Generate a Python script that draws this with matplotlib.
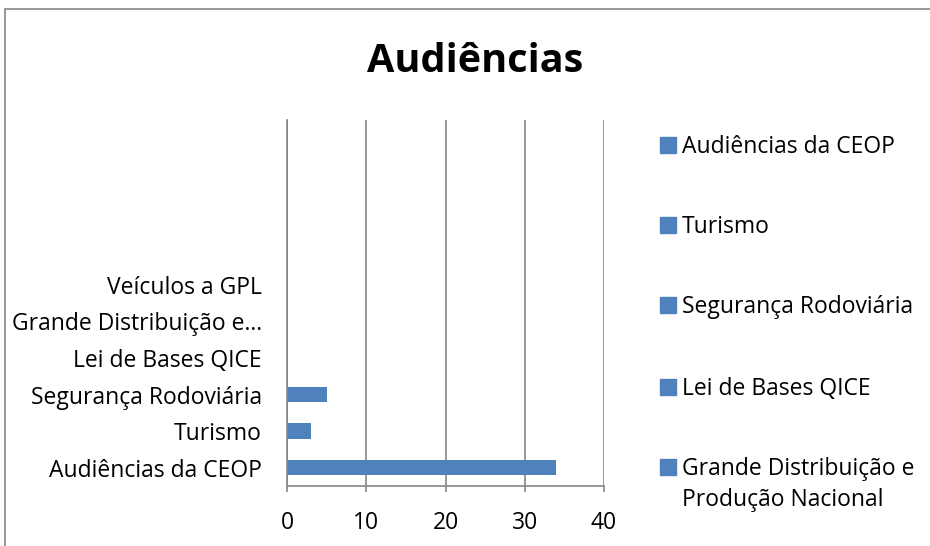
import matplotlib
matplotlib.use("Agg")
import matplotlib.pyplot as plt
from matplotlib.patches import Rectangle
import numpy as np

plt.rcParams['font.family'] = ['Open Sans', 'DejaVu Sans']

categories = ["Audiências da CEOP", "Turismo", "Segurança Rodoviária",
              "Lei de Bases QICE", "Grande Distribuição e…", "Veículos a GPL"]
values = [34, 3, 5, 0, 0, 0]
legend_labels = ["Audiências da CEOP", "Turismo", "Segurança Rodoviária",
                 "Lei de Bases QICE", "Grande Distribuição e\nProdução Nacional"]
xticks = [0, 10, 20, 30, 40]

blue = "#4f81bd"
gray = "#868686"

fig = plt.figure(figsize=(9.3, 5.46), dpi=100)
ax = fig.add_axes([287/930, 1-486/546, (604-287)/930, (486-120)/546])

y = np.arange(len(categories))
ax.barh(y, values, height=0.42, color=blue)
ax.set_yticks(y)
ax.set_yticklabels(categories)
ax.set_ylim(-0.5, 9.5)
ax.set_xlim(0, 40)
ax.set_xticks(xticks)

ax.grid(axis="x", color=gray, linewidth=1.2)
ax.set_axisbelow(True)
for s in ["top", "right"]:
    ax.spines[s].set_visible(False)
for s in ["left", "bottom"]:
    ax.spines[s].set_color(gray)
    ax.spines[s].set_linewidth(1.2)
ax.tick_params(axis="x", direction="out", length=4, width=1.2, color=gray, pad=14, labelsize=16.5)
ax.tick_params(axis="y", length=0, pad=18, labelsize=16.5)

fig.text(475/930, 1-62/546, "Audiências", ha="center", va="center",
         fontsize=28.5, fontweight="bold")

# legend drawn by hand so the two-line entry keeps its square at the first line
leg_y = [145, 225, 305, 387, 467]
for lab, yy in zip(legend_labels, leg_y):
    fig.patches.append(Rectangle((660/930, 1-(yy+8)/546), 16/930, 16/546,
                                 transform=fig.transFigure, color=blue))
    fig.text(682/930, 1-(yy-10)/546, lab, ha="left", va="top", fontsize=16.5,
             linespacing=1.4)

# outer chart border
fig.patches.append(Rectangle((5/930, -0.1), 1.2, 1.1 - 9/546,
                             transform=fig.transFigure, fill=False,
                             edgecolor=gray, linewidth=1.2))

plt.savefig("out.png", dpi=100)
